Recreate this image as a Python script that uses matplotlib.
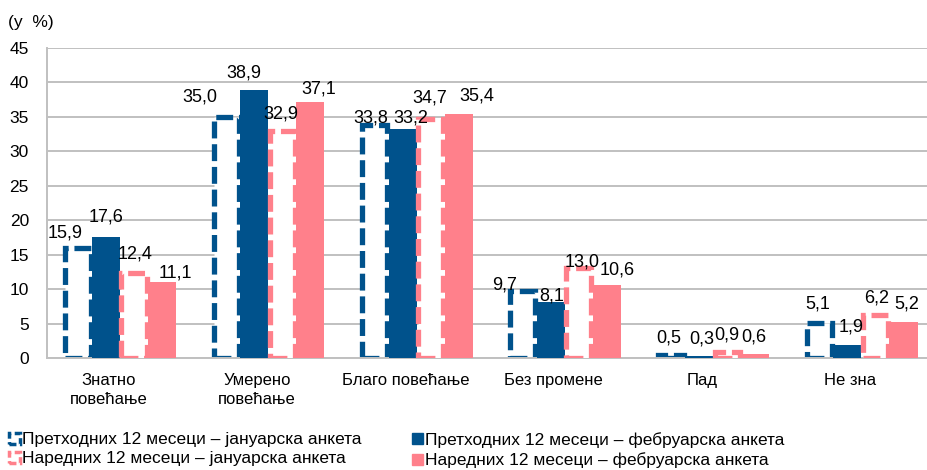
import numpy as np
import matplotlib.pyplot as plt
import matplotlib.transforms as mtransforms
from matplotlib.patches import Patch

# --- data ---
categories = ['Знатно\nповећање', 'Умерено\nповећање', 'Благо повећање',
              'Без промене', 'Пад', 'Не зна']
prev_jan = [15.9, 35.0, 33.8, 9.7, 0.5, 5.1]
prev_feb = [17.6, 38.9, 33.2, 8.1, 0.3, 1.9]
next_jan = [12.4, 32.9, 34.7, 13.0, 0.9, 6.2]
next_feb = [11.1, 37.1, 35.4, 10.6, 0.6, 5.2]
series_names = ['Претходних 12 месеци – јануарска анкета',
                'Претходних 12 месеци – фебруарска анкета',
                'Наредних 12 месеци – јануарска анкета',
                'Наредних 12 месеци – фебруарска анкета']
yticks = [0, 5, 10, 15, 20, 25, 30, 35, 40, 45]

# label nudges in pixels (the source chart has hand-placed labels)
label_dx = [[-13, -26, -4, -18, -2, -2],
            [0, -10, 8, 1, 3, 4],
            [1, -1, -1, 3, 0, 1],
            [13, 8, 18, 10, -1, 3]]
label_dy = [[11, 15, 3, 2, 12, 14],
            [15, 13, 7, 2, 12, 13],
            [14, 13, 16, 1.5, 12, 13],
            [4.5, 9, 14, 10, 12, 14]]

BLUE = '#00528C'
PINK = '#FF808B'
GRID = '#C0C0C0'

plt.rcParams['font.family'] = ['Liberation Sans', 'DejaVu Sans']

W, H = 927, 470
fig = plt.figure(figsize=(W / 100, H / 100), dpi=100)
ax = fig.add_axes([47 / W, (H - 358) / H, 880 / W, 310 / H])

x = np.arange(len(categories))
bw = 0.189
dash = (0, (3.2, 1.1))

series = [
    (prev_jan, BLUE, True),
    (prev_feb, BLUE, False),
    (next_jan, PINK, True),
    (next_feb, PINK, False),
]

for i, (vals, col, dashed) in enumerate(series):
    pos = x + (i - 1.5) * bw
    if dashed:
        bars = ax.bar(pos, vals, bw * 0.9, facecolor='white', edgecolor=col,
                      linewidth=3.8, linestyle=dash, zorder=2 + i)
    else:
        bars = ax.bar(pos, vals, bw, color=col, linewidth=0, zorder=2 + i)
    for j, (b, v) in enumerate(zip(bars, vals)):
        ax.annotate(f'{v:.1f}'.replace('.', ','),
                    (b.get_x() + b.get_width() / 2, v),
                    xytext=(label_dx[i][j] * 0.72, label_dy[i][j] * 0.72),
                    textcoords='offset points',
                    ha='center', va='baseline', fontsize=13, zorder=10)

ax.set_xlim(-0.492, 5.442)
ax.set_ylim(0, 45)
ax.set_yticks(yticks)
ax.tick_params(axis='y', length=0, pad=13, labelsize=12.5)
ax.set_xticks(x)
ax.set_xticklabels(categories, fontsize=12, linespacing=1.3)
ax.tick_params(axis='x', length=0, pad=11)
shift = mtransforms.ScaledTranslation(-8 / 72, 0, fig.dpi_scale_trans)
for lbl in ax.get_xticklabels():
    lbl.set_transform(lbl.get_transform() + shift)

ax.grid(axis='y', color=GRID, linewidth=1.4)
ax.set_axisbelow(True)
for s in ['top', 'right']:
    ax.spines[s].set_visible(False)
for s in ['left', 'bottom']:
    ax.spines[s].set_color(GRID)
    ax.spines[s].set_linewidth(1.4)

fig.text(8 / W, 1 - 22 / H, '(у  %)', fontsize=12.5, va='center', ha='left')

# legend, two columns placed separately
handles = [
    Patch(facecolor='white', edgecolor=BLUE, linewidth=2.5, linestyle=(0, (2, 1))),
    Patch(facecolor=BLUE, edgecolor=BLUE),
    Patch(facecolor='white', edgecolor=PINK, linewidth=2.5, linestyle=(0, (2, 1))),
    Patch(facecolor=PINK, edgecolor=PINK),
]
leg_font = {'family': ['Liberation Sans', 'DejaVu Sans'], 'size': 12.5}
for col, x0 in [(0, -0.003), (1, 400 / W)]:
    hs = [handles[col], handles[col + 2]]
    ls = [series_names[col], series_names[col + 2]]
    fig.legend(hs, ls, loc='upper left', bbox_to_anchor=(x0, 1 - 420 / H),
               frameon=False, prop=leg_font, handlelength=0.6, handleheight=0.6,
               handletextpad=0.15, labelspacing=0.25, borderpad=0.2)

fig.savefig('out.png', dpi=100)
